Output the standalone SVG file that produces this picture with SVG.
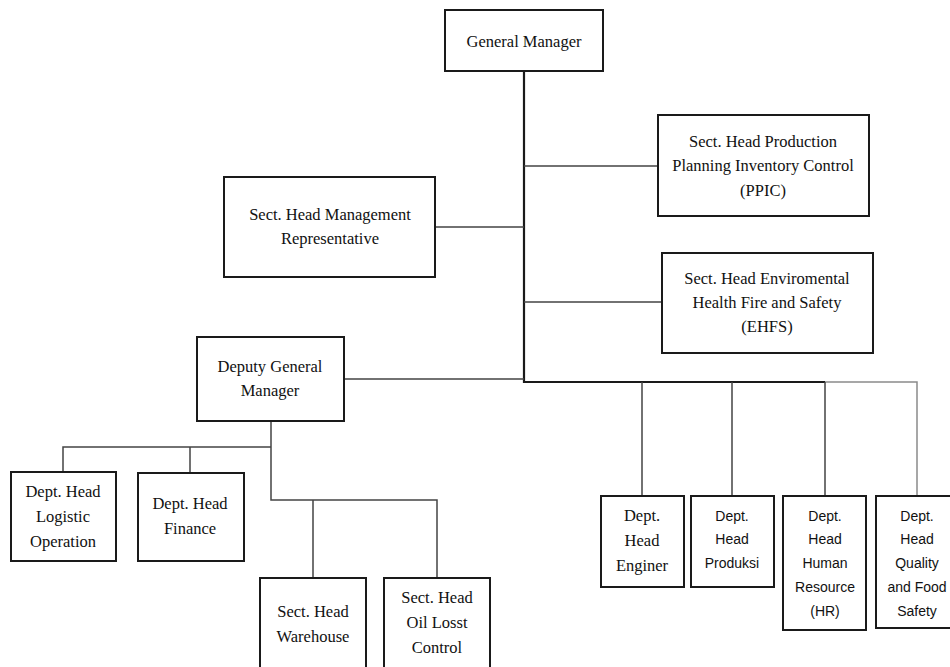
<svg xmlns="http://www.w3.org/2000/svg" width="950" height="667" viewBox="0 0 950 667">
<style>
.box{fill:#fff;stroke:#1a1a1a;stroke-width:2}
.t{font-family:"Liberation Serif","Times New Roman",serif;font-size:16.5px;fill:#111;text-anchor:middle}
.s{font-family:"Liberation Sans",Arial,sans-serif;font-size:14px;fill:#111;text-anchor:middle}
.c{fill:none;stroke:#444;stroke-width:1.5}
.trunk{fill:none;stroke:#1a1a1a;stroke-width:2.2}
.g{fill:none;stroke:#8a8a8a;stroke-width:1.5}
</style>
<rect width="950" height="667" fill="#fff"/>
<g id="connectors">
<path class="trunk" d="M524 71V382H825"/>
<path class="c" d="M524 166H658M524 302H662M435 227H524M344 379H524"/>
<path class="g" d="M825 382H917V496"/>
<path class="c" d="M642 382V496M732 382V496M825 382V496"/>
<path class="c" d="M271 421V500H437V578M63 472V447H271M190 447V473M313 500V578"/>
</g>
<g id="gm"><rect class="box" x="445" y="10" width="158" height="61"/><text class="t" x="524" y="47">General Manager</text></g>
<g id="ppic"><rect class="box" x="658" y="115" width="211" height="101"/><text class="t" x="763" y="147">Sect. Head Production</text><text class="t" x="763" y="171">Planning Inventory Control</text><text class="t" x="763" y="196">(PPIC)</text></g>
<g id="mr"><rect class="box" x="224" y="177" width="211" height="100"/><text class="t" x="330" y="220">Sect. Head Management</text><text class="t" x="330" y="244">Representative</text></g>
<g id="ehfs"><rect class="box" x="662" y="253" width="211" height="100"/><text class="t" x="767" y="284">Sect. Head Enviromental</text><text class="t" x="767" y="308">Health Fire and Safety</text><text class="t" x="767" y="332">(EHFS)</text></g>
<g id="dgm"><rect class="box" x="197" y="337" width="147" height="84"/><text class="t" x="270" y="372">Deputy General</text><text class="t" x="270" y="396">Manager</text></g>
<g id="logistic"><rect class="box" x="11" y="472" width="105" height="89"/><text class="t" x="63" y="497">Dept. Head</text><text class="t" x="63" y="522">Logistic</text><text class="t" x="63" y="547">Operation</text></g>
<g id="finance"><rect class="box" x="138" y="473" width="106" height="88"/><text class="t" x="190" y="509">Dept. Head</text><text class="t" x="190" y="534">Finance</text></g>
<g id="warehouse"><rect class="box" x="260" y="578" width="106" height="95"/><text class="t" x="313" y="617">Sect. Head</text><text class="t" x="313" y="642">Warehouse</text></g>
<g id="oil"><rect class="box" x="384" y="578" width="106" height="95"/><text class="t" x="437" y="603">Sect. Head</text><text class="t" x="437" y="628">Oil Losst</text><text class="t" x="437" y="653">Control</text></g>
<g id="enginer"><rect class="box" x="601" y="496" width="83" height="91"/><text class="t" x="642" y="521">Dept.</text><text class="t" x="642" y="546">Head</text><text class="t" x="642" y="571">Enginer</text></g>
<g id="produksi"><rect class="box" x="691" y="496" width="83" height="91"/><text class="s" x="732" y="521">Dept.</text><text class="s" x="732" y="544">Head</text><text class="s" x="732" y="568">Produksi</text></g>
<g id="hr"><rect class="box" x="783" y="496" width="83" height="134"/><text class="s" x="825" y="521">Dept.</text><text class="s" x="825" y="544">Head</text><text class="s" x="825" y="568">Human</text><text class="s" x="825" y="592">Resource</text><text class="s" x="825" y="616">(HR)</text></g>
<g id="quality"><rect class="box" x="876" y="496" width="83" height="132"/><text class="s" x="917" y="521">Dept.</text><text class="s" x="917" y="544">Head</text><text class="s" x="917" y="568">Quality</text><text class="s" x="917" y="592">and Food</text><text class="s" x="917" y="616">Safety</text></g>
</svg>
